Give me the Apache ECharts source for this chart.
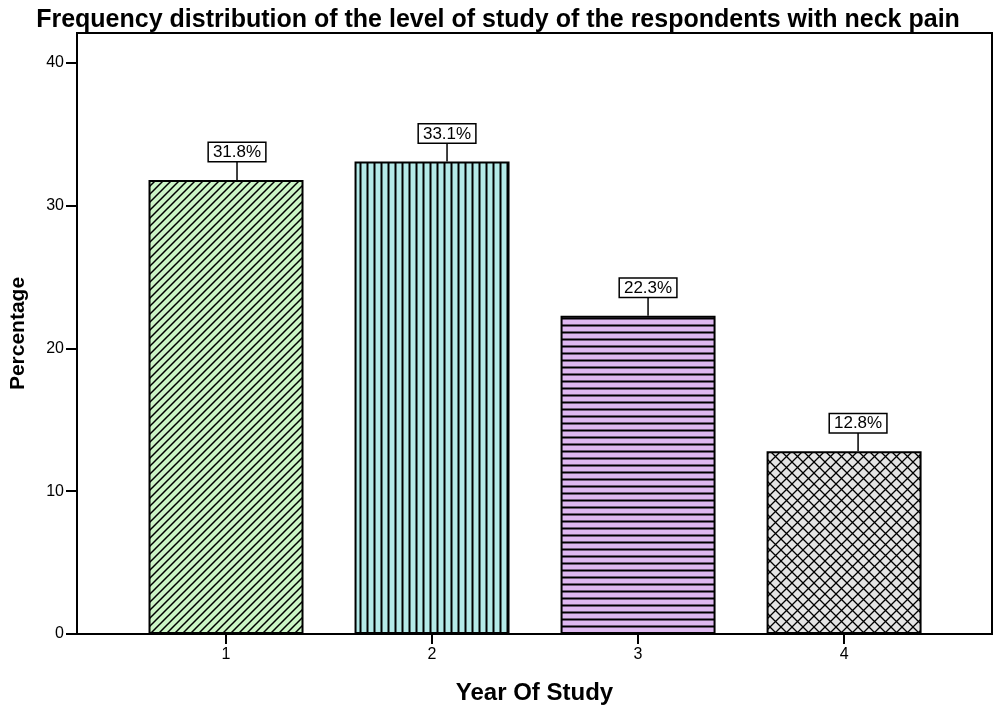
<!DOCTYPE html>
<html>
<head>
<meta charset="utf-8">
<script src="https://cdn.jsdelivr.net/npm/echarts@6/dist/echarts.min.js"></script>
<style>
  html, body { margin: 0; padding: 0; background: #fff; }
  #chart { width: 996px; height: 707px; }
</style>
</head>
<body>
<div id="chart"></div>
<script>
// Year of study (category positions on the x axis) and percentage per year
const years = [1, 2, 3, 4];
const percentages = [31.8, 33.1, 22.3, 12.8];
const yTicks = [0, 10, 20, 30, 40];

// Horizontal pixel nudge of each callout relative to its bar centre
const calloutShift = [11, 15, 10, 14];

// Hatched fills, one per bar
function makePattern(kind, bg) {
  const size = kind === 'cross' ? 11 : (kind === 'diag' ? 8 : 7);
  const c = document.createElement('canvas');
  c.width = size; c.height = size;
  const g = c.getContext('2d');
  g.fillStyle = bg;
  g.fillRect(0, 0, size, size);
  g.strokeStyle = '#000';
  g.lineWidth = kind === 'cross' ? 1.3 : (kind === 'diag' ? 1.5 : 2);
  g.beginPath();
  if (kind === 'diag') {
    g.moveTo(-1, size + 1); g.lineTo(size + 1, -1);
    g.moveTo(-1, 1); g.lineTo(1, -1);
    g.moveTo(size - 1, size + 1); g.lineTo(size + 1, size - 1);
  } else if (kind === 'vert') {
    g.moveTo(size / 2, 0); g.lineTo(size / 2, size);
  } else if (kind === 'horiz') {
    g.moveTo(0, size / 2); g.lineTo(size, size / 2);
  } else if (kind === 'cross') {
    g.moveTo(0, 0); g.lineTo(size, size);
    g.moveTo(0, size); g.lineTo(size, 0);
  }
  g.stroke();
  return { image: c, repeat: 'repeat' };
}

const fills = [
  makePattern('diag', '#ccf5c6'),
  makePattern('vert', '#b4eae8'),
  makePattern('horiz', '#deb8f0'),
  makePattern('cross', '#e4e4e4')
];

const barData = years.map((y, i) => ({
  value: [y, percentages[i]],
  itemStyle: { color: fills[i] }
}));

const chart = echarts.init(document.getElementById('chart'), null, { renderer: 'canvas' });

const font = 'Liberation Sans, Arial, sans-serif';

chart.setOption({
  animation: false,
  backgroundColor: '#fff',
  title: {
    text: 'Frequency distribution of the level of study of the respondents with neck pain',
    left: 'center',
    top: 3,
    textStyle: { fontFamily: font, fontWeight: 'bold', fontSize: 25, color: '#000' }
  },
  grid: {
    left: 77, right: 4, top: 33, bottom: 73,
    outerBoundsMode: 'none',
    containLabel: false,
    show: true, borderColor: '#000', borderWidth: 2, backgroundColor: 'transparent'
  },
  xAxis: {
    type: 'value',
    min: 0.2767,
    max: 4.718,
    name: 'Year Of Study',
    nameLocation: 'middle',
    nameGap: 47,
    nameTextStyle: { fontFamily: font, fontWeight: 'bold', fontSize: 24, color: '#000' },
    axisLine: { show: true, lineStyle: { color: '#000', width: 2 } },
    axisTick: { show: true, length: 10, customValues: years, lineStyle: { color: '#000', width: 2 } },
    axisLabel: { customValues: years, margin: 13, fontFamily: font, fontSize: 16, color: '#000' },
    splitLine: { show: false }
  },
  yAxis: {
    type: 'value',
    min: 0,
    max: 42.1,
    name: 'Percentage',
    nameLocation: 'middle',
    nameGap: 48,
    nameTextStyle: { fontFamily: font, fontWeight: 'bold', fontSize: 21, color: '#000' },
    axisLine: { show: true, lineStyle: { color: '#000', width: 2 } },
    axisTick: { show: true, length: 11, customValues: yTicks, lineStyle: { color: '#000', width: 2 } },
    axisLabel: { customValues: yTicks, margin: 13, fontFamily: font, fontSize: 16, color: '#000' },
    splitLine: { show: false }
  },
  series: [
    {
      type: 'bar',
      data: barData,
      barWidth: 155,
      itemStyle: { borderColor: '#000', borderWidth: 2 }
    },
    {
      // value callouts: leader line plus boxed label above each bar
      type: 'custom',
      data: years.map((y, i) => [y, percentages[i]]),
      z: 5,
      renderItem: function (params, api) {
        const p = api.coord([api.value(0), api.value(1)]);
        const gap = 19;
        const x = p[0] + calloutShift[params.dataIndex];
        return {
          type: 'group',
          children: [
            {
              type: 'line',
              shape: { x1: x, y1: p[1], x2: x, y2: p[1] - gap },
              style: { stroke: '#000', lineWidth: 1.5 }
            },
            {
              type: 'text',
              x: x,
              y: p[1] - gap,
              style: {
                text: api.value(1).toFixed(1) + '%',
                align: 'center',
                verticalAlign: 'bottom',
                fontFamily: font,
                fontSize: 17,
                fill: '#000',
                backgroundColor: '#fff',
                borderColor: '#000',
                borderWidth: 1.5,
                padding: [1, 4, 0, 4]
              }
            }
          ]
        };
      }
    }
  ]
});
</script>
</body>
</html>
